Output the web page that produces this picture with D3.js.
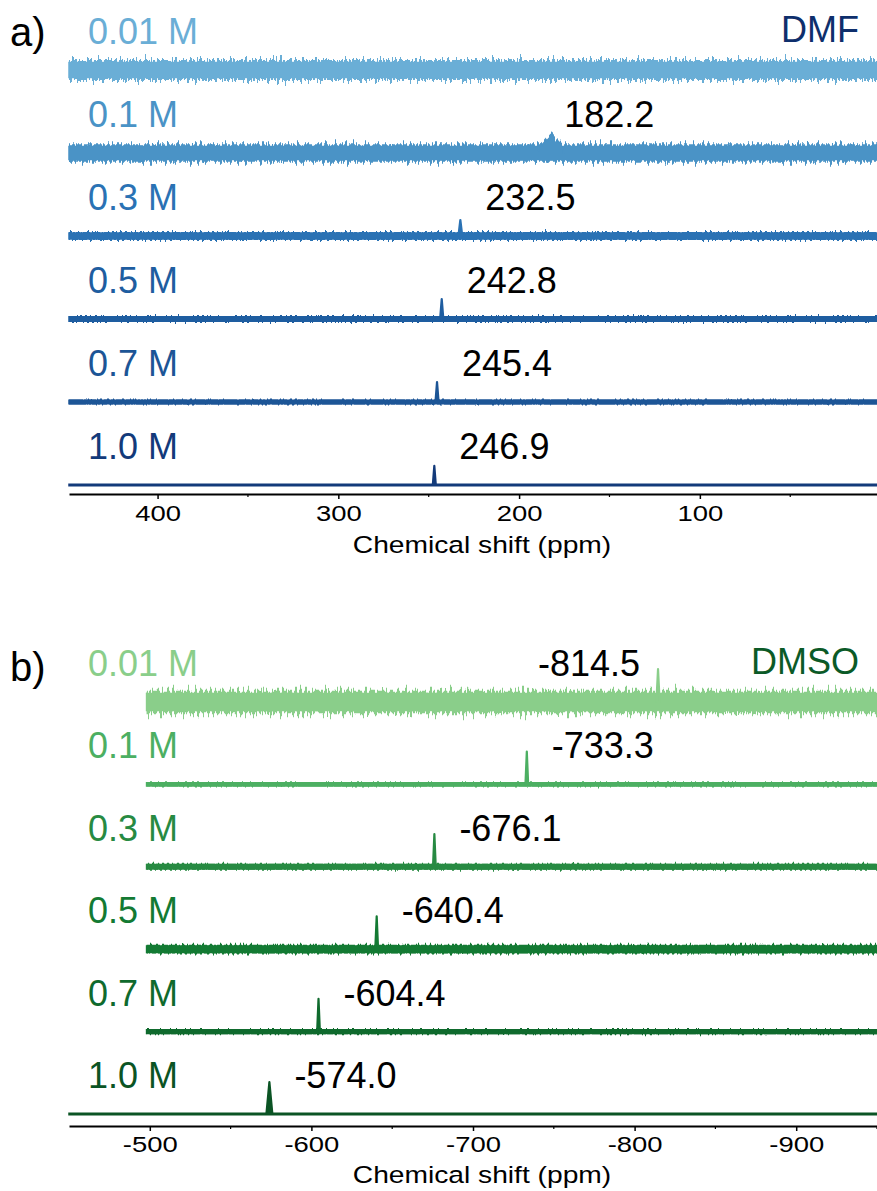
<!DOCTYPE html>
<html>
<head>
<meta charset="utf-8">
<script src="https://cdn.jsdelivr.net/npm/d3@7"></script>
<style>
  body { margin: 0; background: #fff; }
  svg { font-family: "Liberation Sans", Arial, sans-serif; }
</style>
</head>
<body>
<div id="chart"></div>
<script>
// ---------------------------------------------------------------------------
// data
// ---------------------------------------------------------------------------
// a) DMF
var dmfConc       = ['0.01 M', '0.1 M', '0.3 M', '0.5 M', '0.7 M', '1.0 M'];
var dmfColors     = ['#6aaed6', '#4a93c6', '#2a72b4', '#1e5da0', '#1c5596', '#133a7a'];
var dmfNoise      = [25, 22, 10, 7.5, 6, 2.5];          // half noise band, a.u.
var dmfPeakShift  = [null, 182.2, 232.5, 242.8, 245.4, 246.9];
var dmfPeakHeight = [0, 46, 40, 50, 50, 48];            // a.u.
var dmfPeakWidth  = [0, 7, 0.9, 0.8, 0.8, 0.8];         // half width, ppm
var dmfStart      = [449, 449, 449, 449, 449, 449];
var dmfEnd        = [2, 2, 2, 2, 2, 2];
var dmfTicks      = [400, 300, 200, 100];
var dmfMinor      = [350, 250, 150, 50];

// b) DMSO
var dmsoConc       = ['0.01 M', '0.1 M', '0.3 M', '0.5 M', '0.7 M', '1.0 M'];
var dmsoColors     = ['#8ace8a', '#4caf62', '#278a42', '#137a33', '#0f6a2d', '#0b5424'];
var dmsoNoise      = [28, 5.5, 7.5, 11, 6.5, 2.5];
var dmsoPeakShift  = [-814.5, -733.3, -676.1, -640.4, -604.4, -574.0];
var dmsoPeakHeight = [82, 82, 82, 82, 82, 80];
var dmsoPeakWidth  = [0.8, 0.8, 0.8, 0.8, 0.8, 1.8];
var dmsoStart      = [-498, -498, -498, -498, -498, -450];
var dmsoEnd        = [-950, -950, -950, -950, -950, -950];
var dmsoTicks      = [-500, -600, -700, -800, -900];
var dmsoMinor      = [-550, -650, -750, -850, -950];

// ---------------------------------------------------------------------------
var W = 877, H = 1191;
var svg = d3.select('#chart').append('svg')
	.attr('width', W)
	.attr('height', H);

var defs = svg.append('defs');

// intensity (a.u.) -> pixel offset from a trace baseline
var yInt = d3.scaleLinear().domain([0, 100]).range([0, -40]);

// jagged edge texture for the noise bands (vertical displacement only)
function roughFilter(id, amp, seed) {
	var f = defs.append('filter')
		.attr('id', id)
		.attr('x', '-1%').attr('y', '-300%')
		.attr('width', '102%').attr('height', '700%')
		.attr('color-interpolation-filters', 'sRGB');
	f.append('feTurbulence')
		.attr('type', 'fractalNoise')
		.attr('baseFrequency', '0.4 0.003')
		.attr('numOctaves', 3)
		.attr('seed', seed)
		.attr('result', 't');
	f.append('feColorMatrix')
		.attr('in', 't')
		.attr('type', 'matrix')
		.attr('values', '0 0 0 0 0.5  0 1.4 0 0 -0.2  0 0 0 0 0  0 0 0 0 1')
		.attr('result', 'm');
	f.append('feDisplacementMap')
		.attr('in', 'SourceGraphic')
		.attr('in2', 'm')
		.attr('scale', amp)
		.attr('xChannelSelector', 'R')
		.attr('yChannelSelector', 'G');
}

function fmt(v) { return v.toFixed(1); }

function drawPanel(o) {
	var g = svg.append('g');
	var x = d3.scaleLinear().domain(o.domain).range([69, 877]);
	var row = d3.scalePoint().domain(o.conc).range(o.rows);

	// traces
	o.conc.forEach(function(c, i) {
		var y0 = row(c);
		var tg = g.append('g').attr('transform', 'translate(0,' + y0 + ')');
		var col = o.colors[i];
		var nz = o.noise[i];

		var fid = o.key + '-rough-' + i;
		roughFilter(fid, Math.abs(yInt(nz)) * 1.5, 3 + i * 5 + (o.key == 'b' ? 40 : 0));
		var filt = nz > 3 ? 'url(#' + fid + ')' : null;

		var band = function(k) {
			return d3.area()
				.x(function(d) { return x(d); })
				.y0(yInt(-nz * k))
				.y1(yInt(nz * k));
		};
		var span = [o.start[i], o.end[i]];

		// solid core of the noise band
		tg.append('path')
			.datum(span)
			.attr('d', band(0.75))
			.attr('fill', col)
			.attr('stroke', col)
			.attr('stroke-width', 1.5);

		// ragged outer part
		var sg = tg.append('g').attr('filter', filt);
		if (filt) {
			sg.append('path')
				.datum(span)
				.attr('d', band(1))
				.attr('fill', col);
		}

		// peak
		if (o.shift[i] != null) {
			var p = o.shift[i], hw = o.width[i], h = o.height[i];
			var pts = [[p + hw, nz * 0.6], [p, h], [p - hw, nz * 0.6]];
			var pk = d3.area()
				.x(function(d) { return x(d[0]); })
				.y0(yInt(0))
				.y1(function(d) { return yInt(d[1]); });
			// broad humps carry the noise, sharp lines do not
			(hw > 3 ? sg : tg).append('path')
				.datum(pts)
				.attr('d', pk)
				.attr('fill', col)
				.attr('stroke', col)
				.attr('stroke-width', 2.2)
				.attr('stroke-linejoin', 'round');

			// shift label
			var lx = x(p), anchor = 'start';
			if (o.key == 'b' && i === 0) { lx -= 18; anchor = 'end'; }
			else if (hw > 3) lx += 13;
			else lx += 25;
			g.append('text')
				.attr('x', lx)
				.attr('y', y0 - 26)
				.attr('text-anchor', anchor)
				.attr('font-size', 36)
				.attr('fill', '#000')
				.text(fmt(p));
		}

		// concentration label
		g.append('text')
			.attr('x', 88)
			.attr('y', y0 - 26)
			.attr('font-size', 36)
			.attr('fill', col)
			.text(c);
	});

	// solvent label and panel letter
	g.append('text')
		.attr('x', 859)
		.attr('y', row(o.conc[0]) - 28)
		.attr('text-anchor', 'end')
		.attr('font-size', 36)
		.attr('fill', o.solventColor)
		.text(o.solvent);

	g.append('text')
		.attr('x', 10)
		.attr('y', o.letterY)
		.attr('font-size', 40)
		.attr('fill', '#000')
		.text(o.letter);

	// axis
	var ax = g.append('g')
		.attr('transform', 'translate(0,' + o.axisY + ')');
	ax.call(d3.axisBottom(x)
		.tickValues(o.ticks)
		.tickSize(5)
		.tickSizeOuter(0)
		.tickFormat(function(d) { return String(d); }));
	ax.select('.domain').attr('stroke', '#000').attr('stroke-width', 2);
	ax.selectAll('.tick line').attr('stroke', '#000').attr('stroke-width', 1.5);
	ax.selectAll('.tick text')
		.attr('y', o.tickLabelDy)
		.attr('dy', 0)
		.attr('font-size', 22.5)
		.attr('font-family', '"Liberation Sans", Arial, sans-serif')
		.attr('fill', '#000')
		.attr('transform', 'scale(1.22,1)');

	ax.selectAll('.minor')
		.data(o.minor.filter(function(d) {
			return d <= d3.max(o.domain) && d >= d3.min(o.domain);
		}))
		.enter().append('line')
		.attr('class', 'minor')
		.attr('x1', function(d) { return x(d); })
		.attr('x2', function(d) { return x(d); })
		.attr('y1', 0)
		.attr('y2', 3)
		.attr('stroke', '#000')
		.attr('stroke-width', 1.2);

	// axis title
	ax.append('text')
		.attr('transform', 'translate(' + 482 + ',' + o.titleDy + ') scale(1.2,1)')
		.attr('text-anchor', 'middle')
		.attr('font-size', 23.5)
		.attr('fill', '#000')
		.text('Chemical shift (ppm)');
}

drawPanel({
	key: 'a', letter: 'a)', letterY: 46,
	solvent: 'DMF', solventColor: '#0e2f6c',
	conc: dmfConc, colors: dmfColors, noise: dmfNoise,
	shift: dmfPeakShift, height: dmfPeakHeight, width: dmfPeakWidth,
	start: dmfStart, end: dmfEnd,
	domain: [449, 2], rows: [70, 485],
	ticks: dmfTicks, minor: dmfMinor,
	axisY: 494, tickLabelDy: 27, titleDy: 59
});

drawPanel({
	key: 'b', letter: 'b)', letterY: 681,
	solvent: 'DMSO', solventColor: '#0b5a27',
	conc: dmsoConc, colors: dmsoColors, noise: dmsoNoise,
	shift: dmsoPeakShift, height: dmsoPeakHeight, width: dmsoPeakWidth,
	start: dmsoStart, end: dmsoEnd,
	domain: [-450, -950], rows: [702, 1114],
	ticks: dmsoTicks, minor: dmsoMinor,
	axisY: 1126, tickLabelDy: 26, titleDy: 57
});
</script>
</body>
</html>
